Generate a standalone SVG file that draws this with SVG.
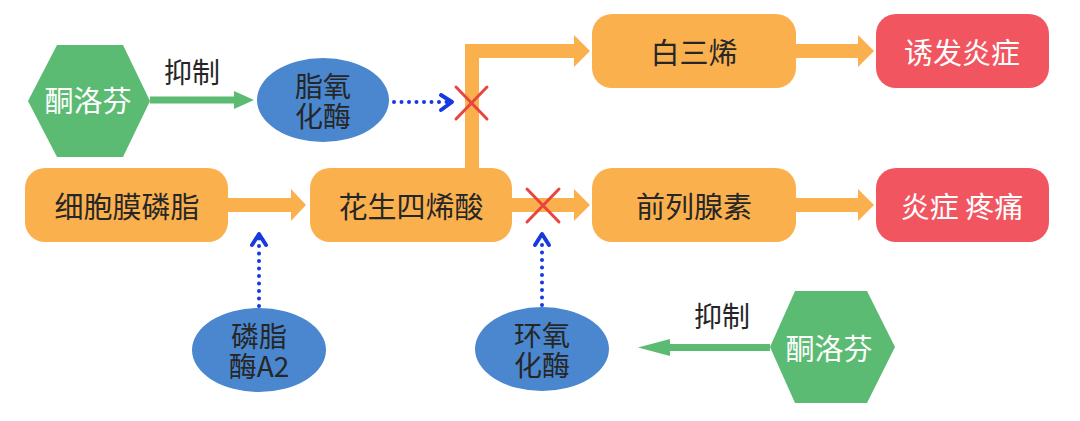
<svg xmlns="http://www.w3.org/2000/svg" width="1080" height="421" viewBox="0 0 1080 421">
  <defs>
    <style>
      text { font-family: "Noto Sans CJK SC", "Noto Sans", sans-serif; text-anchor: middle; dominant-baseline: central; }
      .box { fill: #FBB04E; }
      .red { fill: #F1555F; }
      .hex { fill: #5BBB73; }
      .ell { fill: #4A87CF; }
      .dark { fill: #262626; font-size: 29px; }
      .edark { fill: #262626; font-size: 28px; }
      .white { fill: #FFFFFF; font-size: 29px; }
      .lbl { fill: #262626; font-size: 28px; }
      .oarrow { fill: #FBB04E; }
      .garrow { fill: #5BBB73; }
      .dots { fill: none; stroke: #1639E0; stroke-width: 4; stroke-linecap: round; stroke-dasharray: 0 7.5; }
      .chev { fill: none; stroke: #1639E0; stroke-width: 4; stroke-linecap: round; stroke-linejoin: round; }
      .cross { stroke: #E8453F; stroke-width: 3; stroke-linecap: round; }
    </style>
  </defs>

  <g id="connectors">
    <polygon class="oarrow" points="228,198 291,198 291,189 306,205 291,221 291,212 228,212"/>
    <polygon class="oarrow" points="465,168 465,44 574,44 574,35 590,51 574,67 574,58 479,58 479,168"/>
    <polygon class="oarrow" points="512,198 574,198 574,189 590,205 574,221 574,212 512,212"/>
    <polygon class="oarrow" points="796,44 858,44 858,35 874,51 858,67 858,58 796,58"/>
    <polygon class="oarrow" points="796,198 858,198 858,189 874,205 858,221 858,212 796,212"/>
    <polygon class="garrow" points="150,96.5 234,96.5 234,91 254,100 234,109 234,103.5 150,103.5"/>
    <polygon class="garrow" points="770,344 670,344 670,339 638,347.5 670,356 670,351 770,351"/>
    <text class="lbl" x="192" y="71">抑制</text>
    <text class="lbl" x="722" y="315">抑制</text>
    <path class="dots" d="M394,102 H450"/>
    <path class="chev" d="M441,95 L452,102 L441,110"/>
    <path class="dots" d="M259,306 V238"/>
    <path class="chev" d="M252,245 L259,234 L266,245"/>
    <path class="dots" d="M542,305 V238"/>
    <path class="chev" d="M535,245 L542,234 L549,245"/>
    <g id="block1">
      <line class="cross" x1="456" y1="87" x2="487" y2="119"/>
      <line class="cross" x1="487" y1="87" x2="456" y2="119"/>
    </g>
    <g id="block2">
      <line class="cross" x1="527" y1="189" x2="559" y2="222"/>
      <line class="cross" x1="559" y1="189" x2="527" y2="222"/>
    </g>
  </g>

  <g id="ketoprofen1">
    <polygon class="hex" points="28,101 57,45 123,45 150,101 123,157 57,157"/>
    <text class="white" x="88" y="99">酮洛芬</text>
  </g>
  <g id="ketoprofen2">
    <polygon class="hex" points="770,347 795,291 867,291 895,347 867,403 795,403"/>
    <text class="white" x="829" y="347">酮洛芬</text>
  </g>
  <g id="lipoxygenase">
    <ellipse class="ell" cx="323" cy="100" rx="66" ry="42"/>
    <text class="edark" x="323" y="85">脂氧</text>
    <text class="edark" x="323" y="115">化酶</text>
  </g>
  <g id="pla2">
    <ellipse class="ell" cx="259" cy="350" rx="67" ry="42"/>
    <text class="edark" x="259" y="335">磷脂</text>
    <text class="edark" x="259" y="365">酶A2</text>
  </g>
  <g id="cox">
    <ellipse class="ell" cx="542" cy="349" rx="67" ry="42"/>
    <text class="edark" x="542" y="334">环氧</text>
    <text class="edark" x="542" y="364">化酶</text>
  </g>
  <g id="phospholipid">
    <rect class="box" x="25" y="168" width="203" height="74" rx="20"/>
    <text class="dark" x="127" y="205">细胞膜磷脂</text>
  </g>
  <g id="arachidonic">
    <rect class="box" x="310" y="168" width="202" height="74" rx="20"/>
    <text class="dark" x="411" y="205">花生四烯酸</text>
  </g>
  <g id="leukotriene">
    <rect class="box" x="592" y="14" width="204" height="74" rx="20"/>
    <text class="dark" x="694" y="51">白三烯</text>
  </g>
  <g id="prostaglandin">
    <rect class="box" x="592" y="168" width="204" height="74" rx="20"/>
    <text class="dark" x="694" y="205">前列腺素</text>
  </g>
  <g id="inflammation">
    <rect class="red" x="876" y="14" width="173" height="74" rx="20"/>
    <text class="white" x="962" y="51">诱发炎症</text>
  </g>
  <g id="pain">
    <rect class="red" x="876" y="168" width="173" height="74" rx="20"/>
    <text class="white" x="962" y="205">炎症 疼痛</text>
  </g>
</svg>
